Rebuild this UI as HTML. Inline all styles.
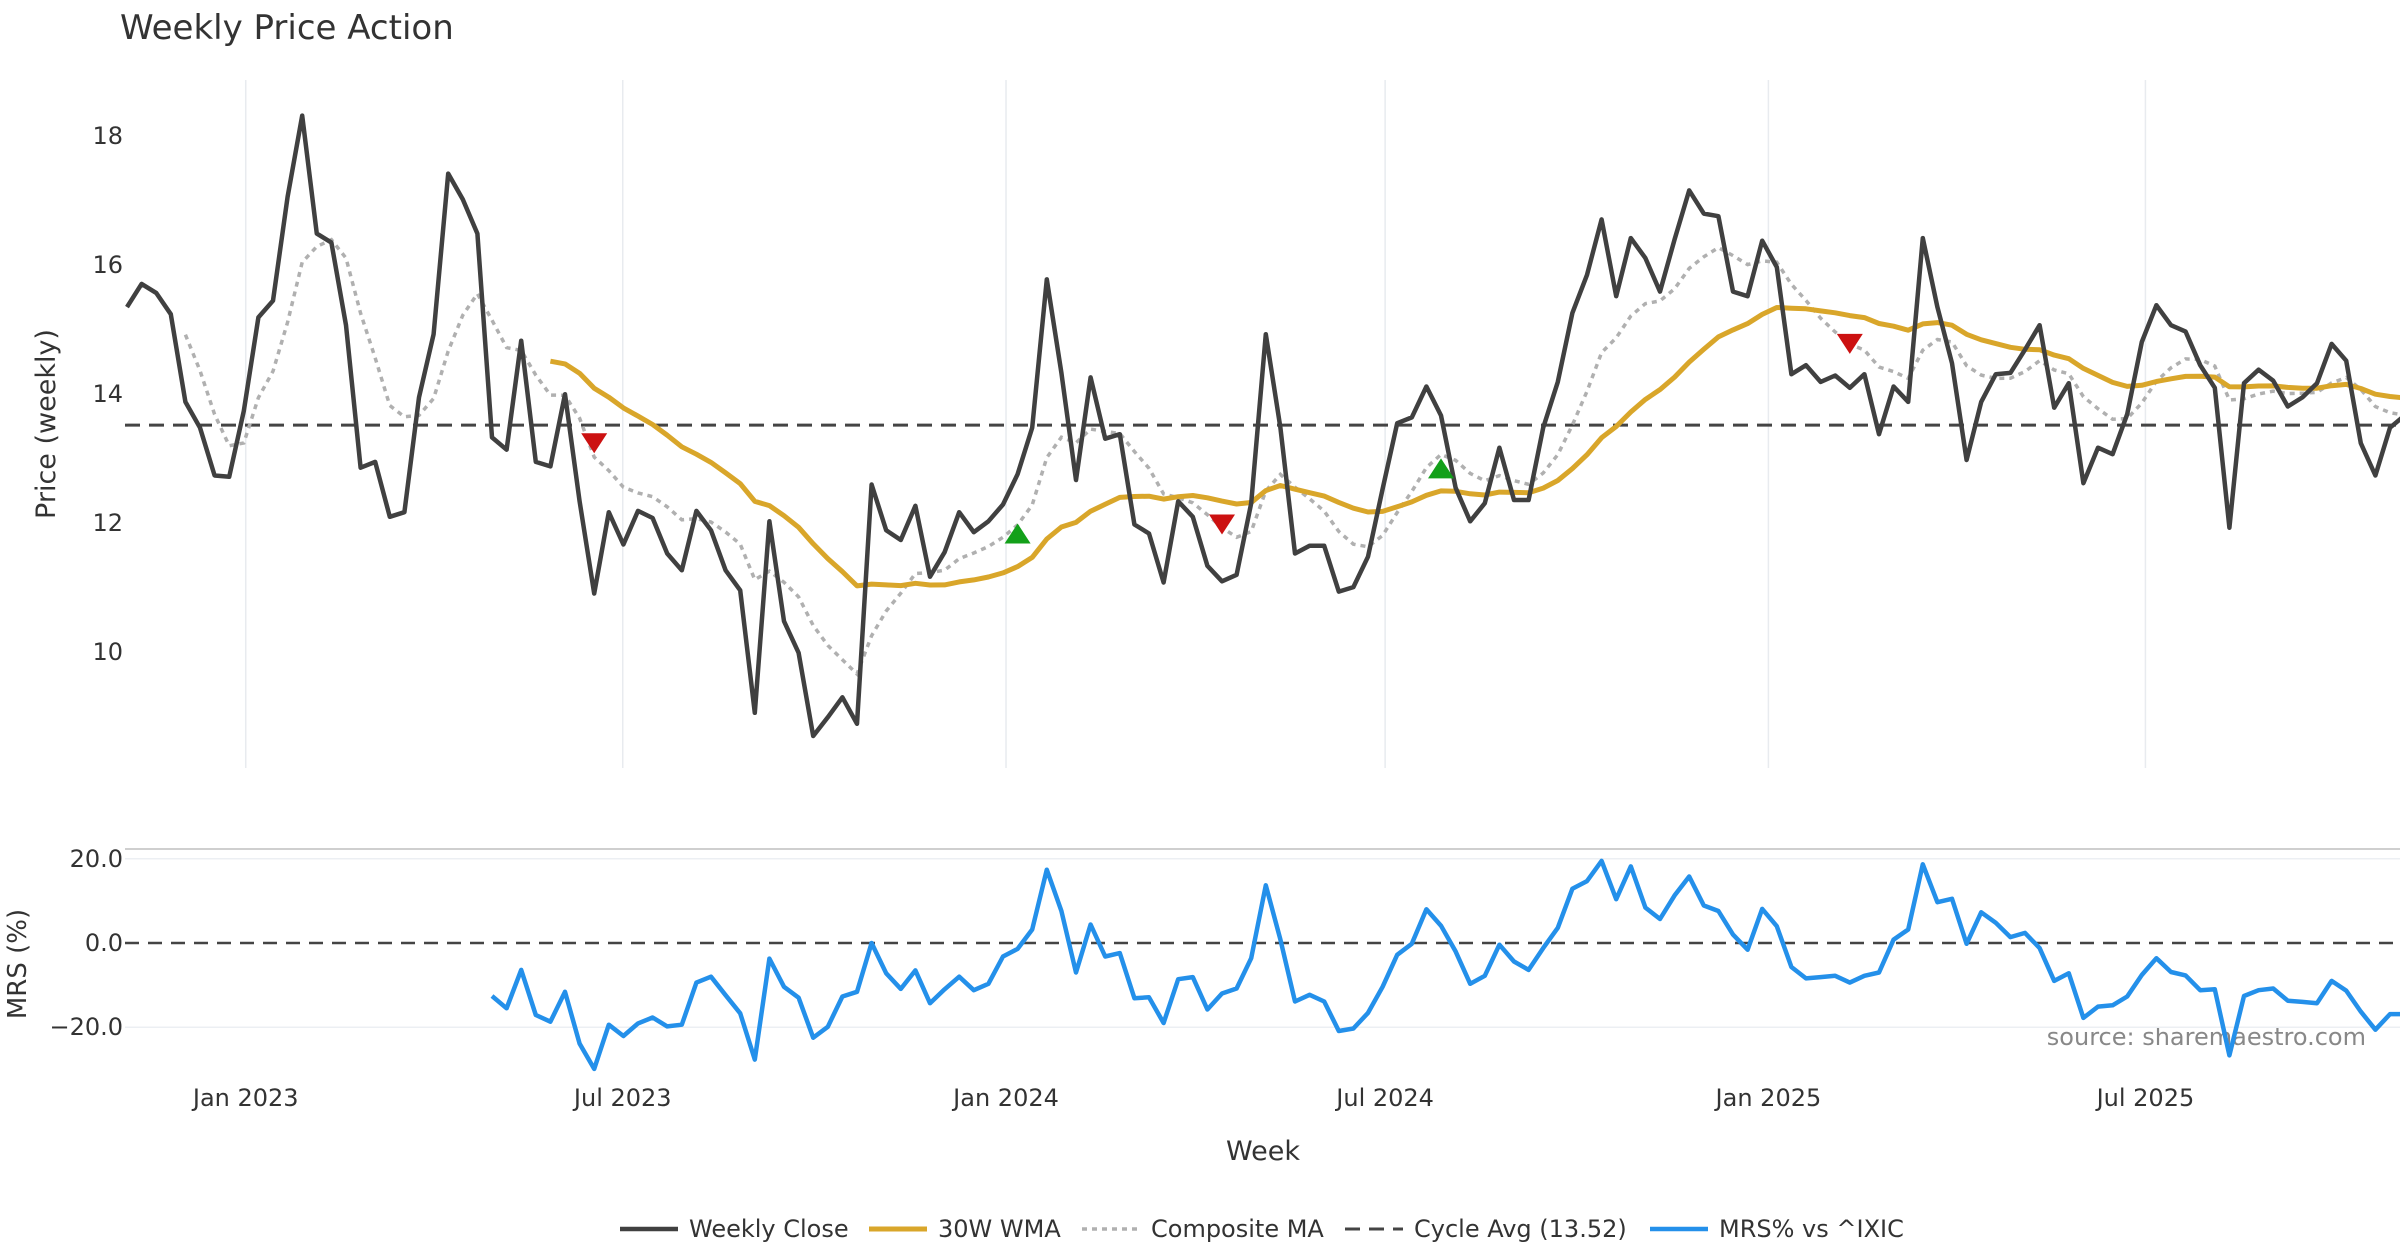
<!DOCTYPE html>
<html><head><meta charset="utf-8"><style>
html,body{margin:0;padding:0;background:#fff;}
svg{display:block;font-family:"DejaVu Sans","Liberation Sans",sans-serif;}
</style></head><body>
<svg id="chart" width="2400" height="1260" viewBox="0 0 2400 1260" xmlns="http://www.w3.org/2000/svg">
<text x="120" y="39" font-size="34" fill="#333">Weekly Price Action</text>
<text transform="translate(55,424) rotate(-90)" text-anchor="middle" font-size="27" fill="#333">Price (weekly)</text>
<text transform="translate(26,964) rotate(-90)" text-anchor="middle" font-size="26" fill="#333">MRS (%)</text>
<text x="1263" y="1160" text-anchor="middle" font-size="27" fill="#333">Week</text>
<text x="2366" y="1045" text-anchor="end" font-size="24" fill="#888">source: sharemaestro.com</text>
<g id="grid"></g><g id="series"></g><g id="legend"></g>
</svg>
<script>
const closes=[15.35,15.71,15.57,15.24,13.88,13.48,12.74,12.72,13.74,15.19,15.45,17.06,18.32,16.49,16.35,15.07,12.86,12.95,12.10,12.17,13.95,14.93,17.42,17.02,16.49,13.33,13.14,14.83,12.95,12.88,14.0,12.34,10.91,12.17,11.67,12.19,12.08,11.53,11.27,12.19,11.89,11.27,10.96,9.06,12.03,10.48,9.99,8.70,8.99,9.30,8.89,
12.60,11.89,11.74,12.27,11.17,11.55,12.17,11.86,12.03,12.29,12.76,13.48,15.78,14.33,12.67,14.26,13.31,13.38,11.98,11.84,11.08,12.34,12.10,11.34,11.10,11.20,12.31,14.93,13.48,11.53,11.65,11.65,10.94,11.01,11.48,12.53,13.55,13.64,14.12,13.67,12.55,12.03,12.31,13.17,12.36,12.36,13.48,14.19,15.26,15.85,16.71,15.52,16.42,16.11,15.59,16.40,17.16,16.80,16.76,15.59,15.52,16.38,15.97,14.31,14.45,14.19,14.29,14.10,14.31,13.38,14.12,13.88,16.42,15.35,14.48,12.98,13.88,14.31,14.33,14.69,15.07,13.79,14.17,12.62,13.17,13.07,13.69,14.81,15.38,15.07,14.97,14.45,14.10,11.93,14.17,14.38,14.21,13.81,13.95,14.17,14.78,14.52,13.24,12.74,13.48,13.67];
const mrsStart=25;
const mrs=[-12.6,-15.5,-6.4,-17.1,-18.7,-11.6,-23.9,-29.9,-19.4,-22.1,-19.1,-17.7,-19.8,-19.4,-9.4,-8.0,-12.4,-16.7,-27.7,-3.7,-10.4,-13.0,-22.5,-19.9,-12.7,-11.6,0,-7.2,-10.9,-6.5,-14.3,-11.0,-8.0,-11.2,-9.7,-3.2,-1.4,3.2,17.4,7.6,-7.0,4.4,-3.2,-2.4,-13.1,-12.9,-19.0,-8.6,-8.1,-15.8,-12.0,-10.8,-3.6,13.7,0.8,-13.9,-12.3,-13.9,-20.9,-20.3,-16.6,-10.4,-2.8,-0.2,8.0,4.1,
-2.0,-9.7,-7.8,-0.4,-4.4,-6.4,-1.2,3.6,12.9,14.7,19.5,10.4,18.2,8.4,5.7,11.3,15.8,8.9,7.6,2.0,-1.6,8.1,4.0,-5.7,-8.4,-8.1,-7.8,-9.4,-7.8,-7.0,0.8,3.2,18.7,9.7,10.5,-0.2,7.3,4.8,1.4,2.4,-1.2,-9.0,-7.2,-17.8,-15.1,-14.8,-12.7,-7.6,-3.6,-6.9,-7.7,-11.2,-11.0,-26.7,-12.6,-11.2,-10.8,-13.7,-14.0,-14.3,-9.0,-11.3,-16.3,-20.6,-16.9,-16.9];
const cycleAvg=13.52;
const sellIdx=[32,75,118];
const sellVals=[13.24,11.98,14.78];
const buyIdx=[61,90];
const buyVals=[11.84,12.85];
const priceTicks=[10,12,14,16,18];
const mrsTicks=[20,0,-20];
const mrsTickLabels=["20.0","0.0","\u221220.0"];
const xTickDates=["2023-01-01","2023-07-01","2024-01-01","2024-07-01","2025-01-01","2025-07-01"];
const xTickLabels=["Jan 2023","Jul 2023","Jan 2024","Jul 2024","Jan 2025","Jul 2025"];

const NS="http://www.w3.org/2000/svg";
const firstWeek=new Date("2022-11-05T00:00:00Z").getTime();
const X0=127, PXD=2.083;
function xIdx(i){return X0+i*14.6;}
function xDate(s){return X0+(new Date(s+"T00:00:00Z").getTime()-firstWeek)/86400000*PXD;}
function yP(v){return 136.2+(18-v)*64.5;}
function yM(v){return 943-v*4.21;}
function mk(tag,attrs,parent){const e=document.createElementNS(NS,tag);for(const k in attrs)e.setAttribute(k,attrs[k]);parent.appendChild(e);return e;}
const grid=document.getElementById('grid'),ser=document.getElementById('series'),leg=document.getElementById('legend');

function wma(arr,n){const out=[];for(let i=0;i<arr.length;i++){if(i<n-1){out.push(null);continue;}let s=0,w=0;for(let k=0;k<n;k++){s+=arr[i-n+1+k]*(k+1);w+=k+1;}out.push(s/w);}return out;}
const wma30=wma(closes,30);
const w5=wma(closes,5),w10=wma(closes,10),w20=wma(closes,20);
const composite=closes.map((c,i)=>{const a=[w5[i],w10[i],w20[i]].filter(v=>v!=null);return a.length?a.reduce((s,v)=>s+v,0)/a.length:null;});

xTickDates.forEach((d,j)=>{const x=xDate(d);
 let g=mk('line',{x1:x,x2:x,y1:80,y2:768,stroke:'#e8ebef','stroke-width':1.5},grid);
 
 let t=mk('text',{x:x,y:1106,'text-anchor':'middle','font-size':24,fill:'#333'},grid);t.textContent=xTickLabels[j];
 });
priceTicks.forEach(v=>{let t=mk('text',{x:123,y:yP(v)+8,'text-anchor':'end','font-size':24,fill:'#333'},grid);t.textContent=v;
 });
let pb=mk('line',{x1:125,x2:2400,y1:849,y2:849,stroke:'#cfcfcf','stroke-width':2},grid);

mrsTicks.forEach((v,j)=>{if(v!==0){let l=mk('line',{x1:125,x2:2400,y1:yM(v),y2:yM(v),stroke:'#eceff3','stroke-width':1.5},grid);
 }
 let t=mk('text',{x:123,y:yM(v)+8,'text-anchor':'end','font-size':24,fill:'#333'},grid);t.textContent=mrsTickLabels[j];
 });
let z=mk('line',{x1:125,x2:2400,y1:yM(0),y2:yM(0),stroke:'#444','stroke-width':2.5,'stroke-dasharray':'14 9'},ser);


function path(vals,offset,yf){let d='';vals.forEach((v,i)=>{if(v==null)return;d+=(d?'L':'M')+xIdx(i+offset).toFixed(1)+','+yf(v).toFixed(1);});return d;}
let ca=mk('line',{x1:125,x2:2400,y1:yP(cycleAvg),y2:yP(cycleAvg),stroke:'#444','stroke-width':3,'stroke-dasharray':'15 9'},ser);

let cp=mk('path',{d:path(composite,0,yP),fill:'none',stroke:'#b0b0b0','stroke-width':3.5,'stroke-dasharray':'5 5'},ser);

let wp=mk('path',{d:path(wma30,0,yP),fill:'none',stroke:'#D9A62A','stroke-width':5,'stroke-linejoin':'round'},ser);

let cl=mk('path',{d:path(closes,0,yP),fill:'none',stroke:'#404040','stroke-width':4.5,'stroke-linejoin':'round'},ser);

let mp=mk('path',{d:path(mrs,mrsStart,yM),fill:'none',stroke:'#2490EA','stroke-width':4.5,'stroke-linejoin':'round'},ser);

sellIdx.forEach((ix,j)=>{const x=xIdx(ix),y=yP(sellVals[j]);
 let p=mk('polygon',{points:`${x-13},${y-10} ${x+13},${y-10} ${x},${y+10}`,fill:'#CC1111'},ser);
 });
buyIdx.forEach((ix,j)=>{const x=xIdx(ix),y=yP(buyVals[j]);
 let p=mk('polygon',{points:`${x-13},${y+10} ${x+13},${y+10} ${x},${y-10}`,fill:'#13A01A'},ser);
 });

const legItems=[["Weekly Close",620,'#404040',4.5,null],["30W WMA",869,'#D9A62A',5,null],["Composite MA",1082,'#b0b0b0',3.5,'5 5'],["Cycle Avg (13.52)",1345,'#444',3,'15 9'],["MRS% vs ^IXIC",1650,'#2490EA',4.5,null]];
legItems.forEach(it=>{const g=mk('g',{},leg);
 
 const a={x1:it[1],x2:it[1]+58,y1:1229,y2:1229,stroke:it[2],'stroke-width':it[3]};if(it[4])a['stroke-dasharray']=it[4];
 mk('line',a,g);
 const t=mk('text',{x:it[1]+69,y:1237,'font-size':24,fill:'#333'},g);t.textContent=it[0];});
</script>
</body></html>
